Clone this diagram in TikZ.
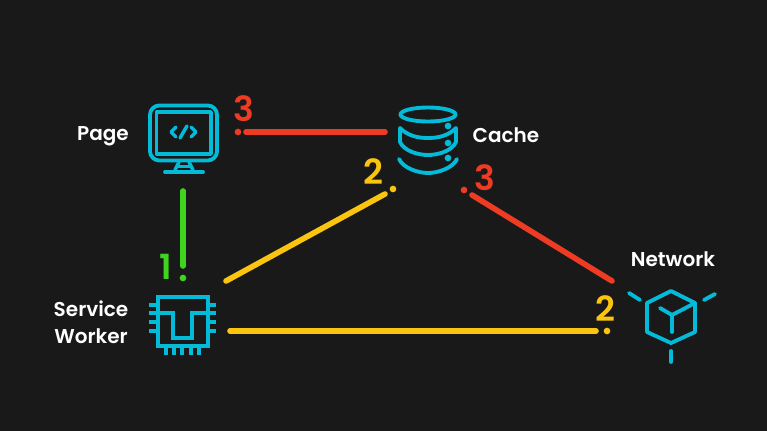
\documentclass[tikz,border=0pt]{standalone}
\usepackage{fontspec}
\setmainfont{Poppins}
\definecolor{bg}{HTML}{191919}
\definecolor{icon}{HTML}{04BAD9}
\definecolor{redc}{HTML}{EE3B24}
\definecolor{yel}{HTML}{FBC50F}
\definecolor{grn}{HTML}{3FD41E}
\tikzset{
  lbl/.style={text=white,font=\fontsize{15}{20}\selectfont\fontspec{Poppins SemiBold},align=center,inner sep=0pt},
  num/.style={font=\fontsize{26}{26}\selectfont\fontspec{Poppins SemiBold},inner sep=0pt},
  ic/.style={draw=icon,line width=2.9pt,line cap=round,line join=round},
  ict/.style={draw=icon,line width=2.6pt,line cap=round,line join=round},
  conn/.style={line width=4.2pt,line cap=round},
  endpt/.style={circle,inner sep=0pt,minimum size=5pt},
}
\begin{document}
\begin{tikzpicture}[x=0.75pt,y=-0.75pt]
\fill[bg] (0,0) rectangle (767,431);
\useasboundingbox (0,0) rectangle (767,431);
% labels
\node[lbl] (page) at (103,136) {Page};
\node[lbl] (cache) at (506,135) {Cache};
\node[lbl] (network) at (673,259) {Network};
\node[lbl] (sw) at (91,322) {Service\\Worker};
% numbers
\node[num,text=redc] (n3a) at (244,109) {3};
\node[num,text=yel] (n2a) at (373,172) {2};
\node[num,text=redc] (n3b) at (485,178) {3};
\node[num,text=grn] (n1) at (166,267) {1};
\node[num,text=yel] (n2b) at (605,309) {2};
% monitor
\draw[ic,rounded corners=7pt] (150,105.5) rectangle (217,160.5);
\draw[ict] (156.5,112) rectangle (211,154);
\draw[ict] (176,127) -- (171,132) -- (176,137);
\draw[ict] (191,127) -- (196,132) -- (191,137);
\draw[ict] (180,138) -- (187,126);
\draw[ict] (179,162) -- (175,170) (189,162) -- (193,170);
\draw[ic] (165,172) -- (203,172);
\draw[ict] (177,166.5) -- (191,166.5);
% chip
\draw[ic,line cap=butt,line join=miter] (158,297) rectangle (208,346);
\draw[ic,line cap=butt,line join=miter] (158,313) -- (173,313) -- (173,338) -- (192,338) -- (192,313) -- (208,313);
\foreach \yy in {305,313,322,331}{
  \draw[ic,line cap=butt] (149,\yy) -- (157,\yy);
  \draw[ic,line cap=butt] (209,\yy) -- (216,\yy);
}
\foreach \xx in {166,174,182,191,199}{
  \draw[ic,line cap=butt] (\xx,347) -- (\xx,355);
}
% cache
\draw[ic] (428,114.5) ellipse [x radius=27.5, y radius=7];
\draw[ic] (400,128) -- (400,142) .. controls (404,151) and (418,155) .. (428,155) .. controls (438,155) and (452,151) .. (456,142) -- (456,128);
\draw[ic] (400,128) .. controls (408,136) and (418,138) .. (428,138) .. controls (438,138) and (448,136) .. (456,128);
\draw[ic] (399,159) .. controls (403,168) and (418,173) .. (428,173) .. controls (438,173) and (453,168) .. (457,159);
\fill[icon] (448,126) circle (2.5pt) (448,143) circle (2.5pt) (448,158) circle (2.5pt);
% network
\draw[ic] (671,291) -- (695,303) -- (695,332) -- (671,343) -- (647,332) -- (647,303) -- cycle;
\draw[ic] (660,308) -- (672,315) -- (695,303);
\draw[ic] (672,315) -- (672,332);
\draw[ic] (629,293) -- (640,300);
\draw[ic] (704,300) -- (715,294);
\draw[ic] (671,351) -- (671,362);
% connector ends
\coordinate (r1a) at (246,132); \coordinate (r1b) at (385,132);
\coordinate (g1a) at (183,191); \coordinate (g1b) at (183,266);
\coordinate (y1a) at (226,281); \coordinate (y1b) at (385,194);
\coordinate (r2a) at (472,195); \coordinate (r2b) at (612,281);
\coordinate (y2a) at (230,331); \coordinate (y2b) at (596,331);
\draw[conn,redc] (r1a) -- (r1b);
\draw[conn,grn] (g1a) -- (g1b);
\draw[conn,yel] (y1a) -- (y1b);
\draw[conn,redc] (r2a) -- (r2b);
\draw[conn,yel] (y2a) -- (y2b);
\node[endpt,fill=redc] (d1) at (238,132) {};
\node[endpt,fill=grn] (d2) at (183,278) {};
\node[endpt,fill=yel] (d3) at (393,189) {};
\node[endpt,fill=redc] (d4) at (464,190) {};
\node[endpt,fill=yel] (d5) at (607,331) {};
\end{tikzpicture}
\end{document}
